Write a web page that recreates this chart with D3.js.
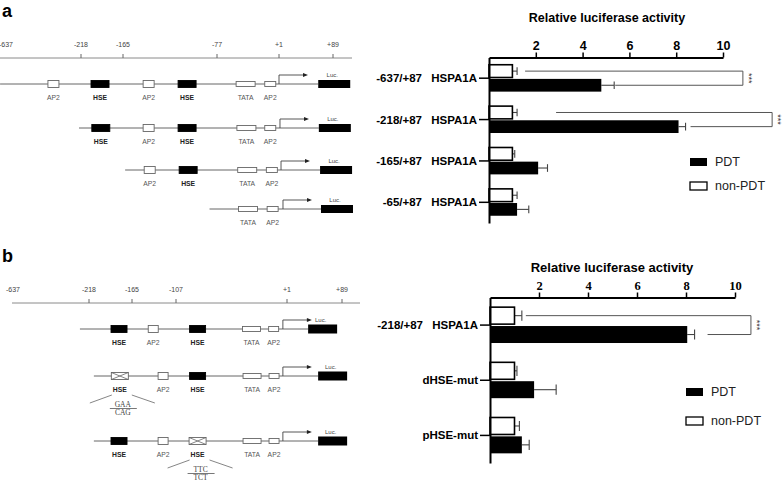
<!DOCTYPE html>
<html>
<head>
<meta charset="utf-8">
<script src="https://cdn.jsdelivr.net/npm/d3@7"></script>
<style>
  body { margin: 0; background: #fff; }
  svg { display: block; }
</style>
</head>
<body>
<svg id="fig" width="782" height="481"></svg>
<script>
// ---- bar chart values ----
const constructsA = ['-637/+87 HSPA1A', '-218/+87 HSPA1A', '-165/+87 HSPA1A', '-65/+87 HSPA1A'];
const pdtA = [4.8, 8.1, 2.1, 1.2];
const pdtErrA = [0.55, 0.3, 0.4, 0.5];
const nonPdtA = [1.0, 1.0, 1.0, 1.0];
const nonPdtErrA = [0.2, 0.2, 0.1, 0.2];

const constructsB = ['-218/+87 HSPA1A', 'dHSE-mut', 'pHSE-mut'];
const pdtB = [8.05, 1.8, 1.3];
const pdtErrB = [0.3, 0.9, 0.3];
const nonPdtB = [1.0, 1.0, 1.0];
const nonPdtErrB = [0.3, 0.1, 0.2];

const xTicks = [2, 4, 6, 8, 10];

// promoter map ticks (bp)
const rulerTicksA = [-637, -218, -165, -77, 1, 89];
const rulerTicksB = [-637, -218, -165, -107, 1, 89];

// construct elements, positions in bp (schematic)
const rowsA = [
  { start: -670, els: [['AP2', -372], ['HSE', -194], ['AP2', -141], ['HSE', -105], ['TATA', -41], ['AP2s', -10]], tss: 1, luc: 91 },
  { start: -229, els: [['HSE', -193], ['AP2', -141], ['HSE', -105], ['TATA', -40], ['AP2s', -10]], tss: 2.6, luc: 92 },
  { start: -163, els: [['AP2', -140], ['HSE', -104], ['TATA', -39], ['AP2s', -8]], tss: 4.3, luc: 94 },
  { start: -84, els: [['TATA', -38], ['AP2s', -7]], tss: 7.5, luc: 95.5 }
];
const rowsB = [
  { start: -268, els: [['HSE', -181], ['AP2', -137], ['HSE', -86], ['TATA', -33.5], ['AP2s', -12]], tss: -3, luc: 58 },
  { start: -212, els: [['HSEx', -180], ['AP2', -124], ['HSE', -86], ['TATA', -33], ['AP2s', -11.6]], tss: -3, luc: 74, mut: [0, 'GAA', 'CAG'] },
  { start: -212, els: [['HSE', -181], ['AP2', -124], ['HSEx', -86], ['TATA', -33], ['AP2s', -11.6]], tss: -3, luc: 74, mut: [2, 'TTC', 'TCT'] }
];

const svg = d3.select('#fig');
const sans = 'Liberation Sans, Arial, sans-serif';
const serif = 'Liberation Serif, Times New Roman, serif';

// panel letters
svg.append('text').attr('x', 2).attr('y', 17).text('a')
   .attr('font-family', sans).attr('font-weight', 'bold').attr('font-size', 18);
svg.append('text').attr('x', 2).attr('y', 262).text('b')
   .attr('font-family', sans).attr('font-weight', 'bold').attr('font-size', 18);

// ---------- promoter diagrams ----------
function drawDiagram(opt) {
  const pos = d3.scaleLinear().domain(opt.ticks).range(opt.tickX);
  const g = svg.append('g');
  const fmt = (d) => d > 0 ? '+' + d : String(d);

  g.append('line').attr('x1', opt.rulerX[0]).attr('x2', opt.rulerX[1])
   .attr('y1', opt.rulerY).attr('y2', opt.rulerY)
   .attr('stroke', '#8a8a8a').attr('stroke-width', 1);
  g.selectAll('.rtick').data(opt.ticks.slice(1)).enter().append('line')
   .attr('x1', (d) => pos(d)).attr('x2', (d) => pos(d))
   .attr('y1', opt.rulerY - 4).attr('y2', opt.rulerY)
   .attr('stroke', '#666');
  g.selectAll('.rlab').data(opt.ticks).enter().append('text')
   .attr('x', (d) => pos(d)).attr('y', opt.rulerY - 11)
   .attr('text-anchor', 'middle').attr('font-family', sans).attr('font-size', 7)
   .attr('fill', '#444').text(fmt);

  opt.rows.forEach((row, i) => {
    const y = opt.rowY[i];
    const sz = opt.sizes;
    const lucX = pos(row.luc);
    const tssX = pos(row.tss);
    g.append('line').attr('x1', pos(row.start)).attr('x2', lucX - sz.Luc[0] / 2)
     .attr('y1', y).attr('y2', y).attr('stroke', '#666').attr('stroke-width', 1);

    row.els.forEach((e, j) => {
      const type = e[0];
      const cx = pos(e[1]);
      const w = sz[type][0], h = sz[type][1];
      const black = type === 'HSE';
      g.append('rect').attr('x', cx - w / 2).attr('y', y - h / 2)
       .attr('width', w).attr('height', h)
       .attr('fill', black ? '#000' : '#fff')
       .attr('stroke', black ? '#000' : '#666').attr('stroke-width', 0.9);
      if (type === 'HSEx') {
        g.append('path')
         .attr('d', `M${cx - w / 2},${y - h / 2}L${cx + w / 2},${y + h / 2}M${cx - w / 2},${y + h / 2}L${cx + w / 2},${y - h / 2}`)
         .attr('stroke', '#666').attr('stroke-width', 0.8);
      }
      const name = type === 'AP2s' ? 'AP2' : (type === 'HSEx' ? 'HSE' : type);
      const bold = name === 'HSE';
      g.append('text').attr('x', cx).attr('y', y + 16)
       .attr('text-anchor', 'middle').attr('font-family', sans)
       .attr('font-size', 6.8).attr('font-weight', bold ? 'bold' : 'normal')
       .attr('fill', bold ? '#222' : '#555').text(name);

      if (row.mut && row.mut[0] === j) {
        const ly = y + 16;
        g.append('path')
         .attr('d', `M${cx - 8},${ly + 3}L${cx - 30},${ly + 11}M${cx + 12},${ly + 3}L${cx + 35},${ly + 11}`)
         .attr('stroke', '#666').attr('stroke-width', 0.8);
        g.append('text').attr('x', cx + 3).attr('y', ly + 14.5).attr('text-anchor', 'middle')
         .attr('font-family', serif).attr('font-size', 7.5).attr('fill', '#444').text(row.mut[1]);
        g.append('line').attr('x1', cx - 10).attr('x2', cx + 17)
         .attr('y1', ly + 16.5).attr('y2', ly + 16.5).attr('stroke', '#555').attr('stroke-width', 0.8);
        g.append('text').attr('x', cx + 3).attr('y', ly + 22.8).attr('text-anchor', 'middle')
         .attr('font-family', serif).attr('font-size', 7.5).attr('fill', '#444').text(row.mut[2]);
      }
    });

    // transcription start arrow
    g.append('path').attr('d', `M${tssX},${y}V${y - 9}H${tssX + 25}`)
     .attr('fill', 'none').attr('stroke', '#444').attr('stroke-width', 0.9);
    g.append('path').attr('d', `M${tssX + 29},${y - 9}l-5,-2v4z`).attr('fill', '#222');

    // luciferase box
    g.append('rect').attr('x', lucX - sz.Luc[0] / 2).attr('y', y - sz.Luc[1] / 2)
     .attr('width', sz.Luc[0]).attr('height', sz.Luc[1]).attr('fill', '#000');
    g.append('text').attr('x', lucX - 2).attr('y', y - 7)
     .attr('text-anchor', 'middle').attr('font-family', sans).attr('font-size', 6)
     .attr('fill', '#444').text('Luc.');
  });
}

drawDiagram({
  ticks: rulerTicksA, tickX: [6, 81, 123, 217, 279, 333],
  rulerX: [0, 352], rulerY: 58,
  rows: rowsA, rowY: [84, 128, 170, 209],
  sizes: { AP2: [11, 7], HSE: [18, 7], HSEx: [18, 7], TATA: [19, 5], AP2s: [11, 5], Luc: [32, 8] }
});

drawDiagram({
  ticks: rulerTicksB, tickX: [13, 89, 132, 176, 287, 342],
  rulerX: [12, 360], rulerY: 303,
  rows: rowsB, rowY: [329, 376, 441],
  sizes: { AP2: [10, 7], HSE: [16, 7], HSEx: [17, 7], TATA: [18, 5], AP2s: [10, 5], Luc: [29, 9] }
});

// ---------- bar charts ----------
function drawBars(opt) {
  const x = d3.scaleLinear().domain([0, 10]).range(opt.xRange);
  const y = d3.scaleBand().domain(opt.cats).range(opt.yRange)
              .paddingInner(0.35).paddingOuter(0.175);
  const sub = d3.scaleBand().domain(['non', 'pdt']).range([0, y.bandwidth()]).paddingInner(0.1);
  const g = svg.append('g');

  g.append('text').attr('x', opt.titleX).attr('y', opt.titleY)
   .attr('text-anchor', 'middle').attr('font-family', sans).attr('font-weight', 'bold')
   .attr('font-size', opt.titleSize).text('Relative luciferase activity');

  const rows = opt.cats.map((c, i) => ({
    cat: c,
    non: opt.non[i], nonErr: opt.nonErr[i],
    pdt: opt.pdt[i], pdtErr: opt.pdtErr[i]
  }));

  rows.forEach((r) => {
    [['non', r.non, r.nonErr], ['pdt', r.pdt, r.pdtErr]].forEach((s) => {
      const top = y(r.cat) + sub(s[0]);
      const h = sub.bandwidth();
      const mid = top + h / 2;
      g.append('line').attr('x1', x(s[1])).attr('x2', x(s[1] + s[2]))
       .attr('y1', mid).attr('y2', mid).attr('stroke', '#444').attr('stroke-width', 1.1);
      g.append('line').attr('x1', x(s[1] + s[2])).attr('x2', x(s[1] + s[2]))
       .attr('y1', mid - h * 0.3).attr('y2', mid + h * 0.3)
       .attr('stroke', '#444').attr('stroke-width', 1.1);
      g.append('rect').attr('x', x(0)).attr('y', top)
       .attr('width', x(s[1]) - x(0)).attr('height', h)
       .attr('fill', s[0] === 'pdt' ? '#000' : '#fff')
       .attr('stroke', '#000').attr('stroke-width', s[0] === 'pdt' ? 0 : 1.6);
    });
  });

  // significance brackets
  opt.brackets.forEach((b) => {
    const r = rows[b.group];
    const yTop = y(r.cat) + sub('non') + sub.bandwidth() / 2;
    const yBot = y(r.cat) + sub('pdt') + sub.bandwidth() / 2;
    g.append('path')
     .attr('d', `M${x(r.non + r.nonErr) + b.gapTop},${yTop}H${x(b.right)}V${yBot}H${x(r.pdt + r.pdtErr) + b.gapBot}`)
     .attr('fill', 'none').attr('stroke', '#555').attr('stroke-width', 1);
    g.append('text').attr('transform', `translate(${x(b.right) + 3},${(yTop + yBot) / 2}) rotate(90)`)
     .attr('text-anchor', 'middle').attr('font-family', sans).attr('font-size', 9)
     .attr('fill', '#333').text('***');
  });

  // axes
  const top = g.append('g').attr('transform', `translate(0,${opt.yRange[0]})`)
    .call(d3.axisTop(x).tickValues(xTicks).tickSize(5).tickSizeOuter(0).tickPadding(3));
  top.select('.domain').attr('stroke-width', 2);
  top.selectAll('.tick line').attr('stroke-width', 1.5);
  top.selectAll('text').attr('font-family', opt.tickFont).attr('font-weight', 'bold')
     .attr('font-size', 12.5).attr('fill', '#000');

  const left = g.append('g').attr('transform', `translate(${x(0)},0)`)
    .call(d3.axisLeft(y).tickSize(10).tickSizeOuter(0).tickFormat(''));
  left.select('.domain').attr('stroke-width', 2);
  left.selectAll('.tick line').attr('stroke-width', 1.5);

  // category labels
  rows.forEach((r) => {
    const parts = r.cat.split(' ');
    const cy = y(r.cat) + y.bandwidth() / 2;
    const lab = g.append('g').attr('font-family', sans).attr('font-weight', 'bold')
      .attr('font-size', 11.5).attr('text-anchor', 'end');
    lab.append('text').attr('x', x(0) - 12).attr('y', cy).attr('dy', '0.35em')
       .text(parts[parts.length - 1]);
    if (parts.length > 1) {
      lab.append('text').attr('x', x(0) - 67).attr('y', cy).attr('dy', '0.35em').text(parts[0]);
    }
  });

  // legend
  const lg = g.append('g').attr('font-family', sans).attr('font-size', 12.5).attr('fill', '#222');
  [['PDT', '#000'], ['non-PDT', '#fff']].forEach((l, i) => {
    const ly = opt.legendY[i];
    lg.append('rect').attr('x', opt.legendX).attr('y', ly - 4)
      .attr('width', 17).attr('height', 8).attr('fill', l[1])
      .attr('stroke', '#000').attr('stroke-width', i ? 1.3 : 0);
    lg.append('text').attr('x', opt.legendX + 25).attr('y', ly).attr('dy', '0.35em').text(l[0]);
  });
}

drawBars({
  cats: constructsA, pdt: pdtA, pdtErr: pdtErrA, non: nonPdtA, nonErr: nonPdtErrA,
  xRange: [489, 723], yRange: [57.5, 223],
  titleX: 607, titleY: 22, titleSize: 12.5, tickFont: sans,
  brackets: [
    { group: 0, right: 10.85, gapTop: 8, gapBot: 1 },
    { group: 1, right: 12.1, gapTop: 39, gapBot: 5 }
  ],
  legendX: 690, legendY: [162, 186]
});

drawBars({
  cats: constructsB, pdt: pdtB, pdtErr: pdtErrB, non: nonPdtB, nonErr: nonPdtErrB,
  xRange: [490, 735], yRange: [297.5, 463],
  titleX: 612, titleY: 272, titleSize: 13, tickFont: serif,
  brackets: [
    { group: 0, right: 10.65, gapTop: 4, gapBot: 13 }
  ],
  legendX: 686, legendY: [392, 421]
});
</script>
</body>
</html>
